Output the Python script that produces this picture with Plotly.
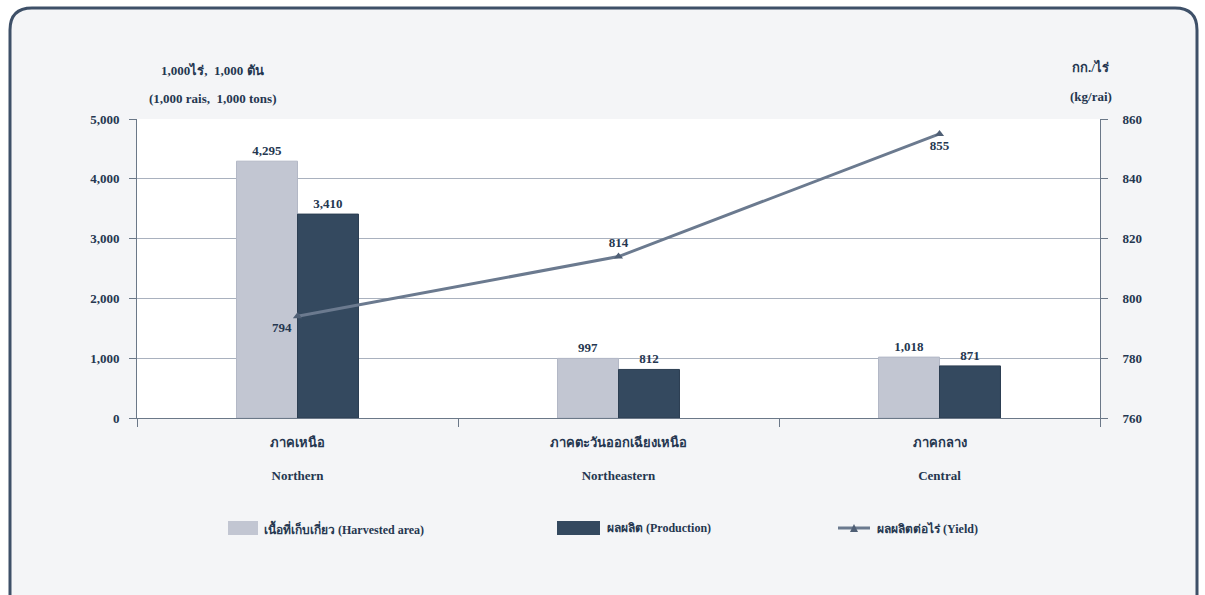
import plotly.graph_objects as go

# ---- data ----
regions_th = ["ภาคเหนือ", "ภาคตะวันออกเฉียงเหนือ", "ภาคกลาง"]
regions_en = ["Northern", "Northeastern", "Central"]
harvested_area = [4295, 997, 1018]
production = [3410, 812, 871]
yield_kg = [794, 814, 855]
left_ticks = [0, 1000, 2000, 3000, 4000, 5000]
right_ticks = [760, 780, 800, 820, 840, 860]

# ---- styling ----
W, H = 1205, 595
L, R, T, B = 137, 105, 119, 177
PW, PH = W - L - R, H - T - B
FONT = "Liberation Serif, Times New Roman, serif"
TXT = "#253750"
GRAY_BAR = "#c2c6d2"
DARK_BAR = "#34495f"
LINE_C = "#6b7a8f"


def px(x):
    return (x - L) / PW


def py(y):
    return (H - B - y) / PH


cats = [f"{t}<br><br>{e}" for t, e in zip(regions_th, regions_en)]
bold13 = dict(family=FONT, size=13, color=TXT, weight="bold")

fig = go.Figure()
fig.add_trace(go.Bar(
    x=cats, y=harvested_area, name="Harvested area",
    marker=dict(color=GRAY_BAR, line=dict(color="#b3b8c6", width=1)),
    texttemplate="%{y:,}", textposition="outside",
    textfont=bold13, cliponaxis=False, showlegend=False,
))
fig.add_trace(go.Bar(
    x=cats, y=production, name="Production",
    marker=dict(color=DARK_BAR, line=dict(color="#2c3e52", width=1)),
    texttemplate="%{y:,}", textposition="outside",
    textfont=bold13, cliponaxis=False, showlegend=False,
))
fig.add_trace(go.Scatter(
    x=cats, y=yield_kg, yaxis="y2", name="Yield",
    mode="lines+markers+text",
    line=dict(color=LINE_C, width=3),
    marker=dict(symbol="triangle-up", size=8, color="#4f5f75"),
    text=[str(v) for v in yield_kg],
    textposition=["bottom left", "top center", "bottom center"],
    textfont=bold13, cliponaxis=False, showlegend=False,
))

shapes = []
# outer rounded frame
x0, x1, y0, y1, r = 10, 1197, 8, 610, 22
path = (f"M {px(x0 + r)},{py(y0)} L {px(x1 - r)},{py(y0)} "
        f"Q {px(x1)},{py(y0)} {px(x1)},{py(y0 + r)} "
        f"L {px(x1)},{py(y1)} L {px(x0)},{py(y1)} "
        f"L {px(x0)},{py(y0 + r)} Q {px(x0)},{py(y0)} {px(x0 + r)},{py(y0)} Z")
shapes.append(dict(type="path", path=path, xref="paper", yref="paper",
                   fillcolor="#f4f5f7", line=dict(color="#3e5068", width=3),
                   layer="below"))
# plot area white background
shapes.append(dict(type="rect", xref="paper", yref="paper", x0=0, x1=1, y0=0, y1=1,
                   fillcolor="white", line=dict(width=0), layer="below"))

# manual legend
annotations = []
leg_y = 528
shapes.append(dict(type="rect", xref="paper", yref="paper",
                   x0=px(228), x1=px(258), y0=py(535), y1=py(521),
                   fillcolor=GRAY_BAR, line=dict(width=0)))
shapes.append(dict(type="rect", xref="paper", yref="paper",
                   x0=px(557), x1=px(600), y0=py(535), y1=py(521),
                   fillcolor=DARK_BAR, line=dict(width=0)))
shapes.append(dict(type="line", xref="paper", yref="paper",
                   x0=px(838), x1=px(870), y0=py(leg_y), y1=py(leg_y),
                   line=dict(color=LINE_C, width=3)))
shapes.append(dict(type="path", xref="paper", yref="paper",
                   path=f"M {px(850)},{py(532)} L {px(858)},{py(532)} L {px(854)},{py(524)} Z",
                   fillcolor="#4f5f75", line=dict(width=0)))
for xx, label in [(262, "เนื้อที่เก็บเกี่ยว (Harvested area)"),
                  (605, "ผลผลิต (Production)"),
                  (875, "ผลผลิตต่อไร่ (Yield)")]:
    annotations.append(dict(x=px(xx), y=py(leg_y), xref="paper", yref="paper",
                            text=f"<b>{label}</b>", showarrow=False,
                            xanchor="left", yanchor="middle",
                            font=dict(family=FONT, size=12, color=TXT)))

# axis titles
for xx, yy, txt in [(212, 70, "1,000ไร่,  1,000 ตัน"),
                    (212, 98, "(1,000 rais,  1,000 tons)"),
                    (1090, 67, "กก./ไร่"),
                    (1091, 96, "(kg/rai)")]:
    annotations.append(dict(x=px(xx), y=py(yy), xref="paper", yref="paper",
                            text=f"<b>{txt}</b>", showarrow=False,
                            xanchor="center", yanchor="middle",
                            font=dict(family=FONT, size=13, color=TXT)))

fig.update_layout(
    width=W, height=H,
    margin=dict(l=L, r=R, t=T, b=B, pad=0),
    paper_bgcolor="white", plot_bgcolor="rgba(0,0,0,0)",
    barmode="group", bargap=0.62, bargroupgap=0,
    font=dict(family=FONT, size=13, color=TXT),
    shapes=shapes, annotations=annotations,
    xaxis=dict(
        type="category", showgrid=False,
        showline=True, linecolor="#6b7888", linewidth=1,
        ticks="outside", tickson="boundaries", ticklen=8, tickcolor="#6b7888",
        ticklabelstandoff=12, tickfont=bold13,
    ),
    yaxis=dict(
        range=[0, 5000], tickvals=left_ticks, tickformat=",",
        showgrid=True, gridcolor="#a9b1be", gridwidth=1,
        showline=True, linecolor="#6b7888", linewidth=1,
        ticks="outside", ticklen=7, tickcolor="#6b7888",
        ticklabelstandoff=7, tickfont=bold13, zeroline=False,
    ),
    yaxis2=dict(
        range=[760, 860], tickvals=right_ticks, overlaying="y", side="right",
        showgrid=False, showline=True, linecolor="#6b7888", linewidth=1,
        ticks="outside", ticklen=7, tickcolor="#6b7888",
        ticklabelstandoff=12, tickfont=bold13, zeroline=False,
    ),
)

fig.write_html("out.html", config={"displayModeBar": False},
               post_script="document.body.style.margin='0';document.body.style.overflow='hidden';")
